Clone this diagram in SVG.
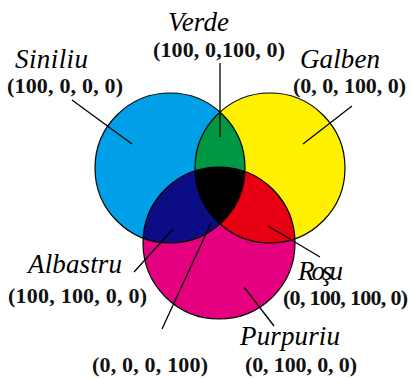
<svg xmlns="http://www.w3.org/2000/svg" width="411" height="378" viewBox="0 0 411 378">
<style>
text{font-family:'Liberation Serif','DejaVu Serif',serif}
.name{font-style:italic;font-size:27px;fill:#000}
.val{font-weight:bold;font-size:22px;fill:#111}
.lead{stroke:#000;stroke-width:1.3;fill:none}
.ring{fill:none;stroke:#000;stroke-width:1.2}
</style>
<defs>
<clipPath id="cC"><circle cx="170" cy="168" r="75"/></clipPath>
<clipPath id="cY"><circle cx="270" cy="168" r="75"/></clipPath>
</defs>
<rect width="411" height="378" fill="#fff"/>
<g id="cyan"><circle cx="170" cy="168" r="75" fill="#00a0e9"/></g>
<g id="yellow"><circle cx="270" cy="168" r="75" fill="#fff100"/></g>
<g id="magenta"><circle cx="219" cy="243" r="76" fill="#e4007f"/></g>
<g id="green"><circle cx="270" cy="168" r="75" fill="#009844" clip-path="url(#cC)"/></g>
<g id="blue"><circle cx="219" cy="243" r="76" fill="#0c0c84" clip-path="url(#cC)"/></g>
<g id="red"><circle cx="219" cy="243" r="76" fill="#e60012" clip-path="url(#cY)"/></g>
<g id="black"><g clip-path="url(#cC)"><circle cx="219" cy="243" r="76" fill="#000" clip-path="url(#cY)"/></g></g>
<g id="outlines">
<circle class="ring" cx="170" cy="168" r="75"/>
<circle class="ring" cx="270" cy="168" r="75"/>
<circle class="ring" cx="219" cy="243" r="76"/>
</g>
<g id="connectors">
<line class="lead" x1="220" y1="63" x2="220" y2="137"/>
<line class="lead" x1="72" y1="100" x2="132" y2="144"/>
<line class="lead" x1="352" y1="106" x2="303" y2="144"/>
<line class="lead" x1="173" y1="229" x2="134" y2="272"/>
<line class="lead" x1="268" y1="226" x2="320" y2="257"/>
<line class="lead" x1="211" y1="223" x2="162" y2="329"/>
<line class="lead" x1="244" y1="287" x2="274" y2="326"/>
</g>
<g id="label-verde"><text class="name" x="168" y="31" textLength="61">Verde</text><text class="val" x="153" y="57" textLength="132">(100, 0,100, 0)</text></g>
<g id="label-siniliu"><text class="name" x="15" y="68" textLength="73">Siniliu</text><text class="val" x="7" y="93" textLength="116">(100, 0, 0, 0)</text></g>
<g id="label-galben"><text class="name" x="300" y="68" textLength="80">Galben</text><text class="val" x="293" y="93" textLength="113">(0, 0, 100, 0)</text></g>
<g id="label-albastru"><text class="name" x="28" y="273" textLength="94">Albastru</text><text class="val" x="8" y="303" textLength="139">(100, 100, 0, 0)</text></g>
<g id="label-rosu"><text class="name" x="298" y="280" textLength="45">Roşu</text><text class="val" x="283" y="305" textLength="125">(0, 100, 100, 0)</text></g>
<g id="label-purpuriu"><text class="name" x="240" y="345" textLength="100">Purpuriu</text><text class="val" x="245" y="372" textLength="112">(0, 100, 0, 0)</text></g>
<g id="label-negru"><text class="val" x="92" y="372" textLength="116">(0, 0, 0, 100)</text></g>
</svg>
